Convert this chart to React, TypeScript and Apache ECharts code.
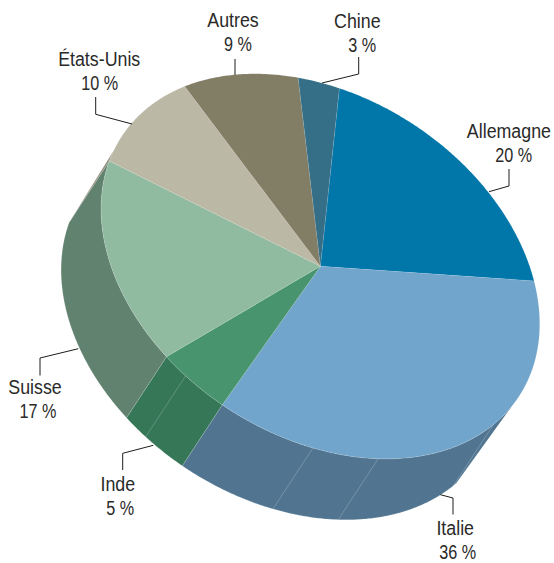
import React, { useEffect, useRef } from "react";
import * as echarts from "echarts";

// ---- data ----
const categories = ["Allemagne", "Italie", "Inde", "Suisse", "États-Unis", "Autres", "Chine"];
const shares = [20, 36, 5, 17, 10, 9, 3];

// ---- styles ----
const topColors = ["#0076a9", "#72a5cc", "#48946e", "#91bba0", "#bbb9a6", "#827d65", "#356e87"];
const wallColors = ["#005a80", "#517590", "#367758", "#628270", "#918e7e", "#625e4c", "#28566a"];

// fractions of a slice's own sweep at which a faint seam crosses its wall
const wallSeams = [[], [0.393, 0.677, 0.81], [0.63], [], [], [], []];

// ---- layout: projection of the round pie on the page ----
const CX = 320.4;
const CY = 266.3;
const MAJOR = 237.4;
const MINOR = 169.7;
const TILT = (33.2 * Math.PI) / 180;
const START_DEG = -110.1;
const DROP_X = -40;
const DROP_Y = 61;
// parts of the rim (degrees) from which the visible side wall hangs
const WALL_TOP = [3.7, 174.8];
const WALL_FOOT = [11.7, 170.6];

const LINE_GAP = 12.25;
const nameX = [508.9, 455.2, 117.8, 35, 99.2, 233, 357.3];
const shareX = [513.7, 457.7, 120.3, 38, 99.8, 238, 362.3];
const labelY = [143, 540, 496.5, 399, 71, 32, 33];
const leaders = [
  [[509, 169], [509, 186], [489, 191.7]],
  [[453, 514.5], [453, 498], [440.3, 494.7]],
  [[122.7, 470], [122.7, 453.3], [153.3, 445.3]],
  [[40, 375.5], [40, 358], [78.3, 348.7]],
  [[95.7, 97], [95.7, 114.3], [132, 124]],
  [[235, 59], [235, 75]],
  [[358.7, 57], [358.7, 74], [322, 83]],
];

function rim(deg: number, dx = 0, dy = 0): number[] {
  const t = (deg * Math.PI) / 180;
  const u = MAJOR * Math.cos(t);
  const v = MINOR * Math.sin(t);
  return [
    CX + u * Math.cos(TILT) - v * Math.sin(TILT) + dx,
    CY + u * Math.sin(TILT) + v * Math.cos(TILT) + dy,
  ];
}

function sliceRange(i: number): number[] {
  const total = shares.reduce((a, b) => a + b, 0);
  const before = shares.slice(0, i).reduce((a, b) => a + b, 0);
  return [START_DEG + (before / total) * 360, START_DEG + ((before + shares[i]) / total) * 360];
}

function arc(from: number, to: number, dx = 0, dy = 0): number[][] {
  const n = Math.max(2, Math.ceil(Math.abs(to - from) / 0.5));
  const out: number[][] = [];
  for (let k = 0; k <= n; k++) out.push(rim(from + ((to - from) * k) / n, dx, dy));
  return out;
}

function renderWall(_: any, api: any) {
  const i = api.value(0);
  const [a, b] = sliceRange(i);
  const topFrom = Math.max(a, WALL_TOP[0]);
  const topTo = Math.min(b, WALL_TOP[1]);
  if (topFrom >= topTo) return { type: "group", children: [] };
  const footFrom = Math.max(a, WALL_FOOT[0]);
  const footTo = Math.min(b, WALL_FOOT[1]);
  const points = [...arc(topFrom, topTo), ...arc(footFrom, footTo, DROP_X, DROP_Y).reverse()];
  const children: any[] = [
    { type: "polygon", shape: { points }, style: { fill: wallColors[i], stroke: "rgba(255,255,255,0.28)", lineWidth: 0.5 } },
  ];
  for (const f of wallSeams[i]) {
    const deg = a + (b - a) * f;
    const [x1, y1] = rim(deg);
    const [x2, y2] = rim(deg, DROP_X, DROP_Y);
    children.push({
      type: "line",
      shape: { x1, y1, x2, y2 },
      style: { stroke: "rgba(255,255,255,0.3)", lineWidth: 0.7 },
    });
  }
  return { type: "group", children };
}

function renderTop(_: any, api: any) {
  const i = api.value(0);
  const [a, b] = sliceRange(i);
  return {
    type: "polygon",
    shape: { points: [[CX, CY], ...arc(a, b)] },
    style: { fill: topColors[i], stroke: "rgba(255,255,255,0.2)", lineWidth: 0.5 },
  };
}

function labelText(text: string, x: number, y: number, scaleX: number) {
  return {
    type: "text",
    z: 5,
    silent: true,
    x,
    y,
    scaleX,
    style: {
      text,
      fill: "#2a2a29",
      font: '20px "Liberation Sans", sans-serif',
      textAlign: "center",
      textVerticalAlign: "middle",
    },
  };
}

export default function App() {
  const ref = useRef<HTMLDivElement>(null);
  useEffect(() => {
    const chart = echarts.init(ref.current!, null, { renderer: "svg" });
    const data = shares.map((v, i) => ({ name: categories[i], value: [i, v] }));
    chart.setOption({
      animation: false,
      backgroundColor: "#ffffff",
      series: [
        { type: "custom", coordinateSystem: "none", z: 2, silent: true, clip: false, renderItem: renderWall, data },
        { type: "custom", coordinateSystem: "none", z: 3, silent: true, clip: false, renderItem: renderTop, data },
      ],
      graphic: [
        ...leaders.map((points) => ({
          type: "polyline",
          z: 4,
          silent: true,
          shape: { points },
          style: { fill: "none", stroke: "#1d1d1b", lineWidth: 1 },
        })),
        ...categories.map((name, i) => labelText(name, nameX[i], labelY[i] - LINE_GAP, 0.89)),
        ...shares.map((v, i) => labelText(`${v} %`, shareX[i], labelY[i] + LINE_GAP, 0.81)),
      ],
    });
    return () => chart.dispose();
  }, []);
  return <div ref={ref} style={{ position: "fixed", left: 0, top: 0, width: 554, height: 563 }} />;
}
